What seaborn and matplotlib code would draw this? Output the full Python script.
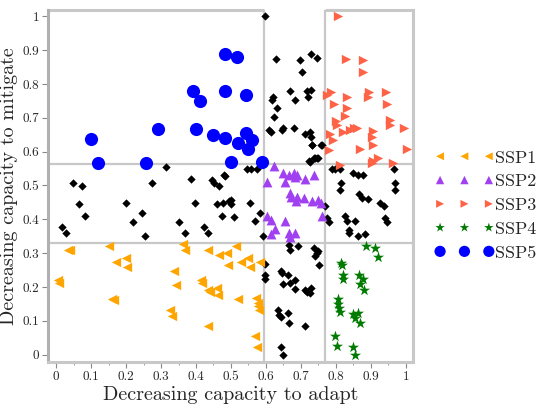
import numpy as np
import pandas as pd
import seaborn as sns
import matplotlib.pyplot as plt
from matplotlib.ticker import MultipleLocator

# values
ssp1_x = [0.033, 0.04, 0.15, 0.171, 0.199, 0.204, 0.005, 0.008, 0.161, 0.165, 0.363, 0.368, 0.337, 0.344,
          0.325, 0.33, 0.435, 0.467, 0.489, 0.515, 0.492, 0.53, 0.549, 0.553, 0.584, 0.413, 0.416, 0.435,
          0.439, 0.461, 0.463, 0.52, 0.435, 0.572, 0.577, 0.578, 0.579, 0.57, 0.575]
ssp1_y = [0.31, 0.309, 0.322, 0.275, 0.285, 0.258, 0.221, 0.213, 0.164, 0.162, 0.327, 0.308, 0.246, 0.206,
          0.131, 0.115, 0.31, 0.295, 0.302, 0.322, 0.264, 0.275, 0.285, 0.258, 0.275, 0.221, 0.213, 0.192,
          0.184, 0.196, 0.177, 0.164, 0.086, 0.167, 0.154, 0.145, 0.131, 0.056, 0.024]

ssp2_x = [0.622, 0.603, 0.648, 0.665, 0.679, 0.684, 0.69, 0.712, 0.736, 0.653, 0.67, 0.672, 0.688, 0.686,
          0.71, 0.733, 0.75, 0.758, 0.76, 0.603, 0.615, 0.653, 0.625, 0.615, 0.665, 0.684, 0.67]
ssp2_y = [0.558, 0.509, 0.536, 0.531, 0.536, 0.524, 0.531, 0.518, 0.531, 0.509, 0.477, 0.467, 0.467, 0.453,
          0.462, 0.453, 0.457, 0.447, 0.41, 0.41, 0.398, 0.396, 0.37, 0.356, 0.359, 0.361, 0.349]

ssp3_x = [0.807, 0.829, 0.878, 0.878, 0.774, 0.785, 0.895, 0.893, 0.943, 0.945, 0.795, 0.831, 0.831, 0.826,
          0.8, 0.802, 0.954, 0.954, 0.994, 0.783, 0.791, 0.779, 0.821, 0.84, 0.852, 0.859, 0.907, 0.902,
          0.907, 0.869, 1.004, 0.907, 0.921, 0.902, 0.962, 0.812]
ssp3_y = [1.0, 0.875, 0.872, 0.834, 0.767, 0.775, 0.777, 0.762, 0.775, 0.742, 0.742, 0.76, 0.728, 0.705,
          0.69, 0.678, 0.693, 0.678, 0.669, 0.651, 0.634, 0.605, 0.659, 0.664, 0.669, 0.669, 0.661, 0.644,
          0.621, 0.609, 0.609, 0.572, 0.582, 0.566, 0.565, 0.562]

ssp4_x = [0.885, 0.912, 0.921, 0.815, 0.818, 0.819, 0.821, 0.866, 0.876, 0.869, 0.881, 0.805, 0.805, 0.809,
          0.812, 0.85, 0.864, 0.855, 0.869, 0.798, 0.802, 0.85, 0.855]
ssp4_y = [0.322, 0.315, 0.29, 0.272, 0.265, 0.237, 0.223, 0.237, 0.223, 0.209, 0.192, 0.164, 0.15, 0.137,
          0.125, 0.121, 0.123, 0.108, 0.093, 0.054, 0.025, 0.022, 0.0]

ssp5_x = [0.1, 0.12, 0.257, 0.29, 0.39, 0.40, 0.41, 0.45, 0.484, 0.516, 0.484, 0.544, 0.484, 0.52, 0.544,
          0.56, 0.55, 0.5, 0.59]
ssp5_y = [0.637, 0.566, 0.566, 0.667, 0.78, 0.667, 0.75, 0.65, 0.888, 0.879, 0.78, 0.767, 0.64, 0.625,
          0.655, 0.634, 0.608, 0.569, 0.569]

other_x = [0.047, 0.074, 0.066, 0.083, 0.017, 0.027, 0.201, 0.22, 0.247, 0.254, 0.274, 0.313, 0.385, 0.397,
           0.351, 0.368, 0.423, 0.435, 0.446, 0.451, 0.467, 0.48, 0.461, 0.477, 0.473, 0.494,
           0.499, 0.499, 0.553, 0.508, 0.584, 0.568, 0.591, 0.484, 0.546, 0.556, 0.575,
           0.731, 0.76, 0.726, 0.741, 0.75, 0.788, 0.798, 0.812, 0.815, 0.812, 0.85, 0.864, 0.878,
           0.866, 0.874, 0.891, 0.926, 0.938, 0.967, 0.969, 0.97, 0.94, 0.945, 0.769, 0.774, 0.779,
           0.826, 0.831, 0.855, 0.836, 0.838, 0.864, 0.883,
           0.598, 0.63, 0.698, 0.703, 0.729, 0.747, 0.67, 0.717, 0.729, 0.72, 0.684, 0.62, 0.617,
           0.632, 0.624, 0.608, 0.614, 0.646, 0.649, 0.679, 0.712, 0.726, 0.729, 0.731, 0.757,
           0.722, 0.736, 0.747,
           0.665, 0.67, 0.691, 0.736, 0.745, 0.739, 0.75, 0.752, 0.596, 0.598, 0.598, 0.644, 0.646,
           0.663, 0.65, 0.668, 0.682, 0.684, 0.712, 0.717, 0.729, 0.726, 0.634, 0.638, 0.644, 0.663,
           0.665, 0.712, 0.644, 0.65]
other_y = [0.508, 0.499, 0.444, 0.411, 0.376, 0.361, 0.449, 0.391, 0.418, 0.352, 0.506, 0.556, 0.519, 0.449,
           0.391, 0.359, 0.376, 0.361, 0.515, 0.506, 0.499, 0.531, 0.445, 0.447, 0.411, 0.453,
           0.457, 0.444, 0.449, 0.406, 0.418, 0.394, 0.351, 0.528, 0.55, 0.55, 0.55,
           0.619, 0.619, 0.57, 0.58, 0.58, 0.55, 0.55, 0.548, 0.508, 0.487, 0.536, 0.53, 0.531,
           0.475, 0.462, 0.459, 0.449, 0.44, 0.548, 0.508, 0.488, 0.403, 0.391, 0.44, 0.403, 0.391,
           0.41, 0.396, 0.394, 0.369, 0.359, 0.351, 0.356,
           1.0, 0.875, 0.872, 0.834, 0.888, 0.878, 0.779, 0.779, 0.782, 0.762, 0.752, 0.76, 0.752,
           0.728, 0.703, 0.664, 0.659, 0.664, 0.671, 0.669, 0.651, 0.659, 0.644, 0.621, 0.621,
           0.572, 0.58, 0.582,
           0.324, 0.308, 0.322, 0.315, 0.302, 0.292, 0.305, 0.265, 0.268, 0.236, 0.223, 0.246, 0.24,
           0.236, 0.209, 0.211, 0.221, 0.194, 0.192, 0.184, 0.196, 0.182, 0.131, 0.118, 0.111, 0.123,
           0.093, 0.084, 0.022, 0.0]

groups = ['SSP1', 'SSP2', 'SSP3', 'SSP4', 'SSP5']
colors = {'SSP1': '#FFA500', 'SSP2': '#A040F0', 'SSP3': '#FF6347', 'SSP4': '#007A00', 'SSP5': '#0000FF'}
markers = {'SSP1': '<', 'SSP2': '^', 'SSP3': '>', 'SSP4': '*', 'SSP5': 'o'}
sizes = {'SSP1': 45, 'SSP2': 50, 'SSP3': 45, 'SSP4': 70, 'SSP5': 90}

df = pd.concat([
    pd.DataFrame({'x': ssp1_x, 'y': ssp1_y, 'SSP': 'SSP1'}),
    pd.DataFrame({'x': ssp2_x, 'y': ssp2_y, 'SSP': 'SSP2'}),
    pd.DataFrame({'x': ssp3_x, 'y': ssp3_y, 'SSP': 'SSP3'}),
    pd.DataFrame({'x': ssp4_x, 'y': ssp4_y, 'SSP': 'SSP4'}),
    pd.DataFrame({'x': ssp5_x, 'y': ssp5_y, 'SSP': 'SSP5'}),
])
other = pd.DataFrame({'x': other_x, 'y': other_y})

sns.set_style('white')
plt.rcParams['font.family'] = 'serif'
plt.rcParams['font.serif'] = ['cmr10', 'DejaVu Serif']
plt.rcParams['mathtext.fontset'] = 'cm'
plt.rcParams['axes.formatter.use_mathtext'] = True
plt.rcParams['axes.unicode_minus'] = False

fig = plt.figure(figsize=(5.52, 4.07), dpi=100)
ax = fig.add_axes([0.087, 0.111, 0.661, 0.864])

xlo, xhi, ylo, yhi = -0.023, 1.02, -0.021, 1.018
box = '#C8C8C8'

# quadrant lines
for v in [0.593, 0.77]:
    ax.axvline(v, color=box, lw=1.6, zorder=1)
for v in [0.33, 0.563]:
    ax.axhline(v, color=box, lw=1.6, zorder=1)
ax.hlines([yhi, yhi], [xlo, 0.77], [0.593, xhi], color=box, lw=2.2, clip_on=False, zorder=1)

sns.scatterplot(data=other, x='x', y='y', marker='D', color='black', s=18, linewidth=0, ax=ax, zorder=3)
handles = []
for g in groups:
    sub = df[df['SSP'] == g]
    sns.scatterplot(data=sub, x='x', y='y', marker=markers[g], color=colors[g], s=sizes[g],
                    linewidth=0, ax=ax, zorder=3)
    handles.append(ax.collections[-1])

ax.set_xlim(xlo, xhi)
ax.set_ylim(ylo, yhi)
ax.set_xticks(np.arange(0, 1.01, 0.1))
ax.set_yticks(np.arange(0, 1.01, 0.1))
tl = ['0'] + ['%.1f' % t for t in np.arange(0.1, 0.95, 0.1)] + ['1']
ax.set_xticklabels(tl)
ax.set_yticklabels(tl)
ax.xaxis.set_minor_locator(MultipleLocator(0.05))
ax.tick_params(axis='both', which='major', direction='out', length=4, width=0.8, color='#888888',
               labelsize=9.5, bottom=True, left=True, pad=2.5)
ax.tick_params(axis='x', which='minor', direction='out', length=2.5, width=0.6, color='#888888', bottom=True)

ax.spines['top'].set_visible(False)
for s in ['left', 'right', 'bottom']:
    ax.spines[s].set_color(box)
    ax.spines[s].set_linewidth(2.2)
ax.spines['left'].set_color('#B0B0B0')

ax.set_xlabel('Decreasing capacity to adapt', fontsize=14.5, labelpad=2)
ax.set_ylabel('Decreasing capacity to mitigate', fontsize=14.5, labelpad=3)

ax.legend(handles, groups, loc='center left', bbox_to_anchor=(1.025, 0.445), frameon=False,
          scatterpoints=3, scatteryoffsets=[0.5], fontsize=13, handlelength=3.3, handletextpad=0.05,
          labelspacing=0.45, borderpad=0.2, markerscale=0.85)

plt.savefig('out.png', dpi=100)
